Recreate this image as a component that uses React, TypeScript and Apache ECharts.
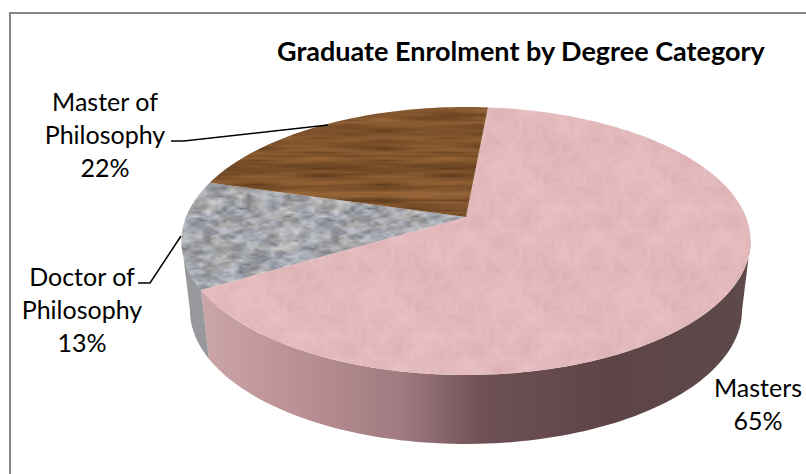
import React, { useEffect, useRef } from "react";
import * as echarts from "echarts";

const categories = ["Masters", "Doctor of\nPhilosophy", "Master of\nPhilosophy"];
const shares = [65, 13, 22];
const titleText = "Graduate Enrolment by Degree Category";

const FONT = "Lato, 'Noto Sans', sans-serif";
const START_DEG = 5.3;
const CX = 466;
const APEX_Y = 217;
const RX = 280;
const RY = 129.7;
const PERSP = 0.179;
const DEPTH = 69;
const BOTTOM_SCALE = 0.97;

const sideFills: any[] = [
  {
    type: "linear", x: 190, y: 0, x2: 750, y2: 0, global: true,
    colorStops: [
      { offset: 0, color: "#cfa8aa" },
      { offset: 0.2, color: "#b88f94" },
      { offset: 0.38, color: "#a07a80" },
      { offset: 0.52, color: "#6f5155" },
      { offset: 0.75, color: "#5e4447" },
      { offset: 1, color: "#5e4a4a" },
    ],
  },
  "#97989b",
  "#6b4a2a",
];
const labelPos = [
  { x: 758, y: 403 },
  { x: 82, y: 309 },
  { x: 105, y: 134 },
];
const leaders: number[][][] = [
  [],
  [[138, 283], [150, 283], [181, 236]],
  [[171, 141], [184, 141], [328, 125]],
];

function hash(x: number, y: number, s: number) {
  const v = Math.sin(x * 127.1 + y * 311.7 + s * 74.7) * 43758.5453;
  return v - Math.floor(v);
}
function noise(x: number, y: number, cw: number, ch: number, w: number, h: number, s: number) {
  const nx = Math.round(w / cw);
  const ny = Math.round(h / ch);
  const gx = (x / w) * nx;
  const gy = (y / h) * ny;
  const x0 = Math.floor(gx);
  const y0 = Math.floor(gy);
  const fx = gx - x0;
  const fy = gy - y0;
  const a = hash(x0 % nx, y0 % ny, s);
  const b = hash((x0 + 1) % nx, y0 % ny, s);
  const c = hash(x0 % nx, (y0 + 1) % ny, s);
  const d = hash((x0 + 1) % nx, (y0 + 1) % ny, s);
  return (a * (1 - fx) + b * fx) * (1 - fy) + (c * (1 - fx) + d * fx) * fy;
}
function makeTexture(size: number, colorAt: (x: number, y: number) => number[]) {
  const canvas = document.createElement("canvas");
  canvas.width = size;
  canvas.height = size;
  const ctx = canvas.getContext("2d")!;
  const img = ctx.createImageData(size, size);
  for (let y = 0; y < size; y++) {
    for (let x = 0; x < size; x++) {
      const c = colorAt(x, y);
      const i = (y * size + x) * 4;
      img.data[i] = c[0];
      img.data[i + 1] = c[1];
      img.data[i + 2] = c[2];
      img.data[i + 3] = 255;
    }
  }
  ctx.putImageData(img, 0, 0);
  return { image: canvas, repeat: "repeat", imageWidth: size, imageHeight: size };
}
function makeTextures() {
  const S = 128;
  const pink = makeTexture(S, (x, y) => {
    const n = noise(x, y, 16, 16, S, S, 1) * 0.6 + noise(x, y, 4, 4, S, S, 2) * 0.4 - 0.5;
    return [227 + n * 14, 185 + n * 20, 188 + n * 20];
  });
  const granite = makeTexture(S, (x, y) => {
    const n = noise(x, y, 8, 4, S, S, 3) * 0.65 + noise(x, y, 4, 2, S, S, 4) * 0.35 - 0.5;
    const t = noise(x, y, 16, 8, S, S, 5) - 0.5;
    return [163 + n * 100 + t * 10, 164 + n * 100, 169 + n * 100 - t * 14];
  });
  const wood = makeTexture(S, (x, y) => {
    const n = noise(x, y, 64, 4, S, S, 6) * 0.6 + noise(x, y, 32, 2, S, S, 7) * 0.4 - 0.5;
    return [128 + n * 80, 84 + n * 60, 44 + n * 40];
  });
  return [pink, granite, wood];
}

function project(deg: number) {
  const t = (deg * Math.PI) / 180;
  const u = Math.sin(t);
  const v = Math.cos(t);
  const w = 1 + PERSP * v;
  return [CX + (RX * u) / w, APEX_Y - (RY * v) / w];
}
function arc(from: number, to: number) {
  const n = Math.max(2, Math.ceil(Math.abs(to - from) / 1.5));
  const pts: number[][] = [];
  for (let i = 0; i <= n; i++) pts.push(project(from + ((to - from) * i) / n));
  return pts;
}
function lower(p: number[]) {
  return [CX + (p[0] - CX) * BOTTOM_SCALE, p[1] + DEPTH];
}
const RIGHT_TANGENT = 100.3;
const LEFT_TANGENT = 259.7;

export default function App() {
  const ref = useRef<HTMLDivElement>(null);
  useEffect(() => {
    const chart = echarts.init(ref.current!, undefined, { renderer: "svg" });
    const textures = makeTextures();
    const total = shares.reduce((a, b) => a + b, 0);
    const starts: number[] = [];
    let acc = START_DEG;
    shares.forEach((v) => {
      starts.push(acc);
      acc += (v / total) * 360;
    });
    const rows = shares.map((v, i) => [v, i]);

    chart.setOption({
      animation: false,
      backgroundColor: "#ffffff",
      title: {
        text: titleText,
        left: 272,
        top: 32,
        textStyle: { fontFamily: FONT, fontWeight: "bold", fontSize: 27, color: "#000000" },
      },
      graphic: [
        { type: "line", shape: { x1: 10, y1: 13, x2: 806, y2: 13 }, style: { stroke: "#868686", lineWidth: 2 } },
        { type: "line", shape: { x1: 10, y1: 12, x2: 10, y2: 474 }, style: { stroke: "#868686", lineWidth: 2 } },
      ],
      series: [
        {
          type: "custom",
          coordinateSystem: "none",
          data: rows,
          z: 1,
          renderItem: (_p: any, api: any) => {
            const i = api.value(1);
            const a0 = starts[i];
            const a1 = a0 + (api.value(0) / total) * 360;
            const from = Math.max(a0, RIGHT_TANGENT);
            const to = Math.min(a1, LEFT_TANGENT);
            if (to <= from) return { type: "group", children: [] };
            const top = arc(from, to);
            const points = top.concat(top.map(lower).reverse());
            return { type: "polygon", shape: { points }, style: { fill: sideFills[i] } };
          },
        },
        {
          type: "custom",
          coordinateSystem: "none",
          data: rows,
          z: 2,
          renderItem: (_p: any, api: any) => {
            const i = api.value(1);
            const a0 = starts[i];
            const a1 = a0 + (api.value(0) / total) * 360;
            const points = [[CX, APEX_Y]].concat(arc(a0, a1));
            return { type: "polygon", shape: { points }, style: { fill: textures[i] } };
          },
        },
        {
          type: "custom",
          coordinateSystem: "none",
          data: rows,
          z: 3,
          renderItem: (_p: any, api: any) => {
            const i = api.value(1);
            const children: any[] = [
              {
                type: "text",
                style: {
                  text: `${categories[i]}\n${api.value(0)}%`,
                  x: labelPos[i].x,
                  y: labelPos[i].y,
                  align: "center",
                  verticalAlign: "middle",
                  fontFamily: FONT,
                  fontSize: 25,
                  lineHeight: 33,
                  fill: "#000000",
                },
              },
            ];
            if (leaders[i].length) {
              children.push({
                type: "polyline",
                shape: { points: leaders[i] },
                style: { fill: "none", stroke: "#000000", lineWidth: 1.5 },
              });
            }
            return { type: "group", children };
          },
        },
      ],
    });
    return () => chart.dispose();
  }, []);
  return (
    <div
      ref={ref}
      style={{ position: "absolute", left: 0, top: 0, width: 806, height: 474 }}
    />
  );
}
